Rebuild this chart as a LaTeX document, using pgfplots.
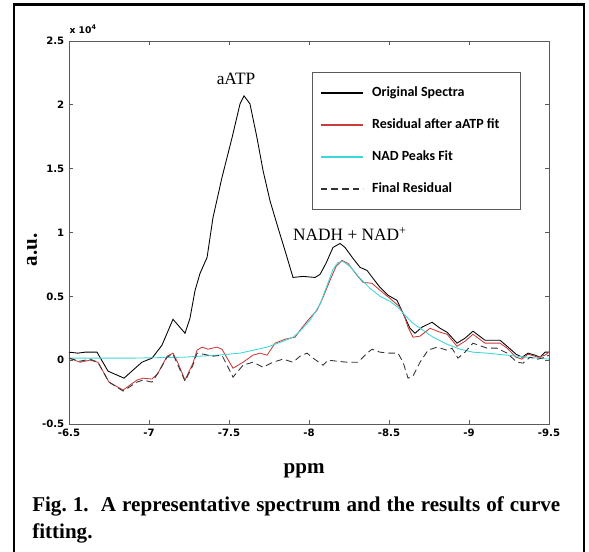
\documentclass[border=0pt]{standalone}
\usepackage{fontspec}
\setmainfont{Liberation Serif}
\newfontfamily\tickfont{DejaVu Sans}
\newfontfamily\legfont{Carlito}
\usepackage{pgfplots}
\pgfplotsset{compat=1.18}
\definecolor{resred}{RGB}{200,60,60}
\definecolor{fitcyan}{RGB}{60,215,215}
\definecolor{axgray}{RGB}{90,90,90}

\pgfplotstableread{
x y
-6.5 0.0625
-6.556 0.055
-6.6 0.0625
-6.675 0.0625
-6.744 -0.086
-6.844 -0.141
-6.9 -0.078
-6.956 -0.016
-7.019 0.016
-7.081 0.117
-7.15 0.32
-7.225 0.211
-7.256 0.328
-7.288 0.547
-7.319 0.68
-7.363 0.805
-7.4 1.117
-7.456 1.43
-7.519 1.742
-7.569 2.008
-7.594 2.07
-7.631 2.008
-7.675 1.742
-7.713 1.484
-7.756 1.25
-7.806 1.039
-7.85 0.859
-7.9 0.648
-7.963 0.656
-8.038 0.648
-8.069 0.672
-8.106 0.758
-8.15 0.883
-8.194 0.914
-8.225 0.883
-8.275 0.797
-8.319 0.727
-8.363 0.703
-8.4 0.641
-8.444 0.57
-8.494 0.508
-8.55 0.469
-8.588 0.367
-8.631 0.25
-8.663 0.211
-8.706 0.258
-8.769 0.297
-8.819 0.25
-8.863 0.219
-8.925 0.133
-8.975 0.172
-9.025 0.227
-9.1 0.156
-9.194 0.156
-9.238 0.109
-9.294 0.047
-9.331 0.023
-9.369 0.055
-9.413 0.039
-9.444 0.023
-9.475 0.0625
-9.5 0.0625
}\original

\pgfplotstableread{
x y
-6.5 0.016
-6.569 -0.016
-6.631 0.0
-6.681 -0.016
-6.75 -0.172
-6.838 -0.234
-6.925 -0.156
-6.963 -0.141
-7.019 -0.148
-7.056 -0.102
-7.113 0.031
-7.15 0.055
-7.181 -0.023
-7.225 -0.156
-7.275 -0.023
-7.3 0.078
-7.331 0.102
-7.369 0.086
-7.425 0.102
-7.456 0.086
-7.525 -0.063
-7.588 -0.016
-7.65 0.039
-7.694 0.055
-7.738 0.039
-7.788 0.133
-7.85 0.164
-7.913 0.18
-7.944 0.234
-7.994 0.313
-8.05 0.391
-8.088 0.492
-8.131 0.625
-8.169 0.734
-8.206 0.781
-8.244 0.758
-8.3 0.664
-8.338 0.609
-8.394 0.602
-8.444 0.547
-8.506 0.484
-8.563 0.422
-8.594 0.352
-8.619 0.258
-8.65 0.18
-8.694 0.188
-8.756 0.25
-8.819 0.219
-8.863 0.203
-8.925 0.109
-8.975 0.148
-9.025 0.203
-9.1 0.133
-9.194 0.133
-9.238 0.094
-9.294 0.023
-9.331 0.008
-9.369 0.047
-9.431 0.023
-9.475 0.039
-9.5 0.0625
}\residual

\pgfplotstableread{
x y
-6.5 0.016
-6.9 0.016
-7.213 0.023
-7.425 0.039
-7.569 0.055
-7.738 0.102
-7.838 0.148
-7.9 0.18
-7.944 0.227
-8.006 0.313
-8.069 0.4375
-8.113 0.586
-8.15 0.711
-8.181 0.766
-8.213 0.773
-8.256 0.734
-8.319 0.641
-8.381 0.5625
-8.444 0.5
-8.506 0.461
-8.556 0.414
-8.6 0.352
-8.65 0.289
-8.713 0.234
-8.775 0.18
-8.863 0.125
-8.944 0.086
-9.025 0.0625
-9.113 0.055
-9.238 0.039
-9.363 0.023
-9.5 0.008
}\nadfit

\pgfplotstableread{
x y
-6.5 0.016
-6.569 -0.008
-6.631 0.008
-6.681 -0.016
-6.75 -0.172
-6.838 -0.242
-6.925 -0.172
-6.963 -0.156
-7.019 -0.172
-7.056 -0.102
-7.113 0.023
-7.15 0.047
-7.181 -0.039
-7.225 -0.164
-7.275 -0.039
-7.3 0.055
-7.338 0.047
-7.4 0.031
-7.456 0.039
-7.525 -0.133
-7.588 -0.039
-7.65 -0.016
-7.713 -0.055
-7.775 -0.016
-7.838 0.008
-7.9 -0.016
-7.944 0.031
-7.988 0.055
-8.025 0.016
-8.088 -0.039
-8.119 0.0
-8.175 -0.008
-8.238 -0.016
-8.306 -0.016
-8.363 0.055
-8.394 0.086
-8.444 0.0625
-8.506 0.055
-8.556 0.055
-8.588 -0.016
-8.619 -0.141
-8.65 -0.125
-8.694 -0.016
-8.744 0.078
-8.8 0.102
-8.863 0.078
-8.894 0.094
-8.931 0.016
-8.975 0.0625
-9.025 0.133
-9.113 0.094
-9.175 0.094
-9.238 0.055
-9.3 -0.016
-9.338 -0.023
-9.381 0.023
-9.431 0.008
-9.475 0.023
-9.5 0.039
}\finalres

\begin{document}
\begin{tikzpicture}
\useasboundingbox (0pt,0pt) rectangle (441.75pt,414pt);
\draw[line width=1.9pt] (10.5pt,0pt) -- (10.5pt,410.6pt) -- (438pt,410.6pt) -- (438pt,0pt);
\begin{axis}[
  at={(51.75pt,96pt)}, anchor=south west,
  scale only axis, width=360pt, height=287.25pt,
  x dir=reverse, xmin=-9.5, xmax=-6.5, ymin=-0.5, ymax=2.5,
  xtick={-6.5,-7,-7.5,-8,-8.5,-9,-9.5},
  xticklabels={-6.5,-7,-7.5,-8,-8.5,-9,-9.5},
  ytick={-0.5,0,0.5,1,1.5,2,2.5},
  yticklabels={-0.5,0,0.5,1,1.5,2,2.5},
  tick align=inside, major tick length=3pt,
  axis line style={axgray, line width=0.6pt},
  tick style={axgray, line width=0.6pt},
  ticklabel style={font=\tickfont\bfseries\fontsize{7.6}{9}\selectfont},
  xlabel={ppm}, ylabel={a.u.},
  xlabel style={at={(axis description cs:0.49,-0.128)}, anchor=base, font=\bfseries\fontsize{15.8}{19}\selectfont},
  ylabel style={at={(axis description cs:-0.077,0.454)}, anchor=center, font=\bfseries\fontsize{15.8}{19}\selectfont},
  legend style={at={(axis description cs:0.506,0.919)}, anchor=north west,
    draw=axgray, line width=0.5pt, fill=white,
    inner xsep=6pt, inner ysep=10.5pt, row sep=14pt, column sep=6pt,
    font=\legfont\bfseries\fontsize{10.5}{12}\selectfont,
    nodes={inner sep=0pt, text height=7.5pt, text depth=2.5pt}},
  legend cell align=left,
  legend image code/.code={\draw[#1, line width=0.9pt] (0pt,0pt) -- (32pt,0pt);},
]
\addplot[draw=black, line width=0.65pt] table[x=x,y=y] {\original};
\addlegendentry{\makebox[105pt][l]{Original Spectra}}
\addplot[draw=resred, line width=0.65pt] table[x=x,y=y] {\residual};
\addlegendentry{\makebox[105pt][l]{Residual after aATP fit}}
\addplot[draw=fitcyan, line width=0.65pt] table[x=x,y=y] {\nadfit};
\addlegendentry{\makebox[105pt][l]{NAD Peaks Fit}}
\addplot[draw=black!80, line width=0.65pt, dash pattern=on 5pt off 3pt] table[x=x,y=y] {\finalres};
\addlegendentry{\makebox[105pt][l]{Final Residual}}
\node[font=\fontsize{13}{15}\selectfont] at (axis cs:-7.544,2.203) {aATP};
\node[font=\fontsize{13}{15}\selectfont] at (axis cs:-8.256,0.99) {NADH + NAD\textsuperscript{+}};
\end{axis}
\node[anchor=base west, inner sep=0pt, font=\tickfont\bfseries\fontsize{6.9}{8}\selectfont] at (52pt,388.5pt) {x 10\textsuperscript{4}};
\node[anchor=north west, inner sep=0pt, text width=396pt, align=justify, font=\bfseries\fontsize{15.8}{20.25}\selectfont] at (24pt,42pt) {Fig.~1.\ \ A representative spectrum and the results of curve\linebreak fitting.};
\end{tikzpicture}
\end{document}
